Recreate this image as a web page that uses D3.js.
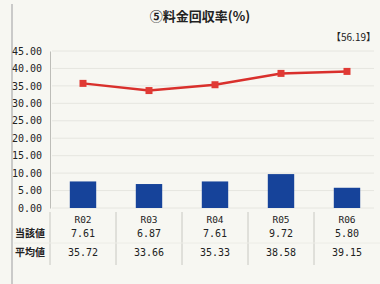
<!DOCTYPE html>
<html>
<head>
<meta charset="utf-8">
<script src="https://cdn.jsdelivr.net/npm/d3@7"></script>
<style>
  body { margin: 0; background: #f7f7f2; }
  svg { display: block; }
</style>
</head>
<body>
<div class="chart"></div>
<script>
const width = 380;
const height = 284;

// data
const years = ["R02", "R03", "R04", "R05", "R06"];
const ownValues = [7.61, 6.87, 7.61, 9.72, 5.80];
const avgValues = [35.72, 33.66, 35.33, 38.58, 39.15];
const yTicks = [0, 5, 10, 15, 20, 25, 30, 35, 40, 45];
const rowLabels = ["当該値", "平均値"];
const titleText = "⑤料金回収率(%)";
const noteText = "【56.19】";

const margin = { left: 50, right: 380, top: 51, bottom: 208 };

const svg = d3.select(".chart")
    .append("svg")
    .attr("width", width)
    .attr("height", height);

svg.append("rect")
    .attr("width", width)
    .attr("height", height)
    .attr("fill", "#f7f7f2");

// left frame line
svg.append("line")
    .attr("x1", 12).attr("x2", 12)
    .attr("y1", 4).attr("y2", height)
    .attr("stroke", "#bbbbbb")
    .attr("stroke-width", 1.5);

let xScale = d3.scaleBand()
    .domain(years)
    .range([margin.left, margin.right])
    .paddingInner(0.6)
    .paddingOuter(0.3);

let colScale = d3.scaleBand()
    .domain(years)
    .range([margin.left, margin.right]);

let yScale = d3.scaleLinear()
    .domain([0, 45])
    .range([margin.bottom, margin.top]);

// title
svg.append("text")
    .text(titleText)
    .attr("x", 200)
    .attr("y", 21)
    .attr("text-anchor", "middle")
    .attr("font-family", "Noto Sans CJK JP")
    .attr("font-weight", "bold")
    .attr("font-size", 13)
    .attr("fill", "#222");

svg.append("text")
    .text(noteText)
    .attr("x", 376)
    .attr("y", 41)
    .attr("text-anchor", "end")
    .attr("font-family", "Noto Sans CJK JP")
    .attr("font-size", 10)
    .attr("fill", "#222");

// gridlines
svg.append("g")
    .selectAll("line")
    .data(yTicks)
    .enter()
    .append("line")
    .attr("x1", margin.left + 2)
    .attr("x2", margin.right - 6)
    .attr("y1", d => yScale(d))
    .attr("y2", d => yScale(d))
    .attr("stroke", "#e6e6e0")
    .attr("stroke-width", 1);

// y axis
let yAxis = d3.axisLeft(yScale)
    .tickValues(yTicks)
    .tickSize(0)
    .tickPadding(8)
    .tickFormat(d3.format(".2f"));
let yg = svg.append("g")
    .attr("transform", "translate(" + margin.left + ",0)")
    .call(yAxis);
yg.select(".domain")
    .attr("stroke", "#bdbdb8");
yg.selectAll("text")
    .attr("font-family", "DejaVu Sans Mono")
    .attr("font-size", 10)
    .attr("fill", "#222");

// bars
svg.append("g")
    .selectAll("rect")
    .data(ownValues)
    .enter()
    .append("rect")
    .attr("x", (d, i) => xScale(years[i]))
    .attr("y", d => yScale(d))
    .attr("width", xScale.bandwidth())
    .attr("height", d => yScale(0) - yScale(d))
    .attr("fill", "#16439a");

// average line
let line = d3.line()
    .x((d, i) => colScale(years[i]) + colScale.bandwidth() / 2)
    .y(d => yScale(d));
svg.append("path")
    .datum(avgValues)
    .attr("d", line)
    .attr("fill", "none")
    .attr("stroke", "#d9302c")
    .attr("stroke-width", 2.5);
svg.append("g")
    .selectAll("rect")
    .data(avgValues)
    .enter()
    .append("rect")
    .attr("x", (d, i) => colScale(years[i]) + colScale.bandwidth() / 2 - 3.5)
    .attr("y", d => yScale(d) - 3.5)
    .attr("width", 7)
    .attr("height", 7)
    .attr("fill", "#e03a34");

// data table
const rowY = [219, 233, 252];
let table = svg.append("g");
table.selectAll(".vline")
    .data(years)
    .enter()
    .append("line")
    .attr("x1", d => colScale(d))
    .attr("x2", d => colScale(d))
    .attr("y1", 212)
    .attr("y2", 265)
    .attr("stroke", "#c8c8c2");
table.selectAll(".hline")
    .data([243])
    .enter()
    .append("line")
    .attr("x1", 14)
    .attr("x2", margin.right)
    .attr("y1", d => d)
    .attr("y2", d => d)
    .attr("stroke", "#ecece6");

table.selectAll(".year")
    .data(years)
    .enter()
    .append("text")
    .text(d => d)
    .attr("x", d => colScale(d) + colScale.bandwidth() / 2)
    .attr("y", rowY[0] + 3.5)
    .attr("text-anchor", "middle")
    .attr("font-family", "DejaVu Sans Mono")
    .attr("font-size", 9.5)
    .attr("fill", "#222");

[ownValues, avgValues].forEach((vals, r) => {
    table.append("text")
        .text(rowLabels[r])
        .attr("x", 15)
        .attr("y", rowY[r + 1] + 4)
        .attr("font-family", "Noto Sans CJK JP")
        .attr("font-weight", "bold")
        .attr("font-size", 10)
        .attr("fill", "#222");
    table.selectAll(".row" + r)
        .data(vals)
        .enter()
        .append("text")
        .text(d => d3.format(".2f")(d))
        .attr("x", (d, i) => colScale(years[i]) + colScale.bandwidth() / 2)
        .attr("y", rowY[r + 1] + 4)
        .attr("text-anchor", "middle")
        .attr("font-family", "DejaVu Sans Mono")
        .attr("font-size", 10)
        .attr("fill", "#222");
});
</script>
</body>
</html>
